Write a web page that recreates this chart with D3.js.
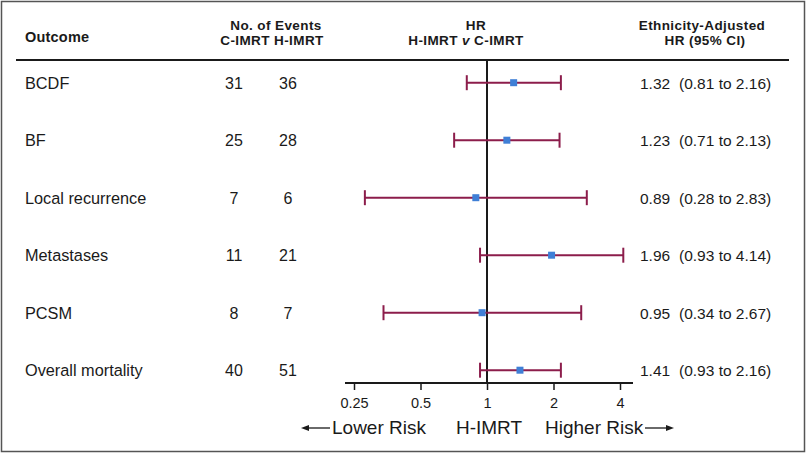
<!DOCTYPE html>
<html><head><meta charset="utf-8">
<script src="https://cdn.jsdelivr.net/npm/d3@7"></script>
<style>body{margin:0;background:#fff;}svg{display:block;font-family:"Liberation Sans",Arial,sans-serif;}</style>
</head><body><svg id="c" width="807" height="454"></svg>
<script>
const outcomes = ["BCDF","BF","Local recurrence","Metastases","PCSM","Overall mortality"];
const cEvents = [31,25,7,11,8,40];
const hEvents = [36,28,6,21,7,51];
const hr = [1.32,1.23,0.89,1.96,0.95,1.41];
const lo = [0.81,0.71,0.28,0.93,0.34,0.93];
const hi = [2.16,2.13,2.83,4.14,2.67,2.16];
const xTicks = [0.25,0.5,1,2,4];
const fmt = d3.format(".2f");

const svg = d3.select("#c");
const ink = "#1a1a1a", bar = "#8c1d4b", dot = "#3f7fd6";

svg.append("rect").attr("x",1.5).attr("y",1.5).attr("width",803).attr("height",450)
  .attr("fill","none").attr("stroke","#555").attr("stroke-width",1.5);

const x = d3.scaleLog().base(2).domain([0.25,4]).range([354,620]);
const y = d3.scalePoint().domain(outcomes).range([82.7,370.2]);

// headers
const hdr = svg.append("g").attr("font-weight","bold").attr("font-size",13.5)
  .attr("letter-spacing",0.4).attr("fill",ink);
hdr.append("text").attr("x",25).attr("y",42).attr("font-size",14.5).attr("letter-spacing",0.2).text("Outcome");
hdr.append("text").attr("x",276).attr("y",29.5).attr("text-anchor","middle").text("No. of Events");
hdr.append("text").attr("x",272).attr("y",45).attr("text-anchor","middle").text("C-IMRT H-IMRT");
hdr.append("text").attr("x",476).attr("y",29.5).attr("text-anchor","middle").text("HR");
const t2 = hdr.append("text").attr("x",466).attr("y",45).attr("text-anchor","middle");
t2.append("tspan").text("H-IMRT ");
t2.append("tspan").attr("font-style","italic").text("v");
t2.append("tspan").text(" C-IMRT");
hdr.append("text").attr("x",702).attr("y",29.5).attr("text-anchor","middle").text("Ethnicity-Adjusted");
hdr.append("text").attr("x",705).attr("y",45).attr("text-anchor","middle").text("HR (95% CI)");

svg.append("line").attr("x1",16).attr("x2",789).attr("y1",60).attr("y2",60)
  .attr("stroke",ink).attr("stroke-width",2);

// axis
const ax = svg.append("g").attr("transform","translate(0,383)")
  .call(d3.axisBottom(x).tickValues(xTicks).tickFormat(d=>String(d)).tickSize(7).tickSizeOuter(0).tickPadding(8));
ax.select(".domain").remove();
ax.selectAll(".tick line").attr("stroke",ink).attr("stroke-width",1.5);
ax.selectAll(".tick text").attr("font-size",14.5).attr("fill",ink).attr("font-family","Liberation Sans, Arial, sans-serif");
svg.append("line").attr("x1",345).attr("x2",633).attr("y1",383).attr("y2",383).attr("stroke",ink).attr("stroke-width",2);

// reference line
svg.append("line").attr("x1",x(1)).attr("x2",x(1)).attr("y1",60).attr("y2",383)
  .attr("stroke",ink).attr("stroke-width",2);

// rows
const rows = svg.append("g").selectAll("g").data(outcomes).join("g");
rows.append("text").attr("x",25).attr("y",d=>y(d)+6).attr("font-size",16.3).attr("fill",ink).text(d=>d);
rows.append("text").attr("x",234).attr("y",d=>y(d)+6).attr("text-anchor","middle").attr("font-size",16).attr("fill",ink).text((d,i)=>cEvents[i]);
rows.append("text").attr("x",288).attr("y",d=>y(d)+6).attr("text-anchor","middle").attr("font-size",16).attr("fill",ink).text((d,i)=>hEvents[i]);
rows.append("text").attr("x",640).attr("y",d=>y(d)+6).attr("font-size",15.5).attr("fill",ink).text((d,i)=>fmt(hr[i]));
rows.append("text").attr("x",679).attr("y",d=>y(d)+6).attr("font-size",15.5).attr("fill",ink)
  .text((d,i)=>`(${fmt(lo[i])} to ${fmt(hi[i])})`);

rows.append("line").attr("x1",(d,i)=>x(lo[i])).attr("x2",(d,i)=>x(hi[i]))
  .attr("y1",d=>y(d)).attr("y2",d=>y(d)).attr("stroke",bar).attr("stroke-width",2);
rows.append("line").attr("x1",(d,i)=>x(lo[i])).attr("x2",(d,i)=>x(lo[i]))
  .attr("y1",d=>y(d)-7.5).attr("y2",d=>y(d)+7.5).attr("stroke",bar).attr("stroke-width",2);
rows.append("line").attr("x1",(d,i)=>x(hi[i])).attr("x2",(d,i)=>x(hi[i]))
  .attr("y1",d=>y(d)-7.5).attr("y2",d=>y(d)+7.5).attr("stroke",bar).attr("stroke-width",2);
rows.append("rect").attr("x",(d,i)=>x(hr[i])-3.5).attr("y",d=>y(d)-3.5)
  .attr("width",7).attr("height",7).attr("fill",dot);

// bottom labels
const bl = svg.append("g").attr("font-size",19).attr("fill",ink);
bl.append("text").attr("x",332).attr("y",434).text("Lower Risk");
bl.append("text").attr("x",489).attr("y",434).attr("text-anchor","middle").text("H-IMRT");
bl.append("text").attr("x",545).attr("y",434).text("Higher Risk");
// arrows
svg.append("line").attr("x1",306).attr("x2",330).attr("y1",428).attr("y2",428).attr("stroke",ink).attr("stroke-width",1.3);
svg.append("path").attr("d","M301,428 L309,425 L309,431 Z").attr("fill",ink);
svg.append("line").attr("x1",645).attr("x2",668).attr("y1",428).attr("y2",428).attr("stroke",ink).attr("stroke-width",1.3);
svg.append("path").attr("d","M674,428 L666,425 L666,431 Z").attr("fill",ink);
</script></body></html>
